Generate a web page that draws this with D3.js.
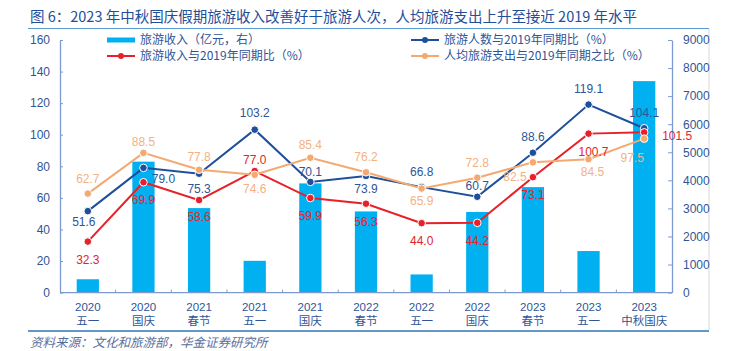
<!DOCTYPE html>
<html>
<head>
<meta charset="utf-8">
<script src="https://cdn.jsdelivr.net/npm/d3@7"></script>
<style>
  body { margin: 0; background: #fff; }
  svg text { font-family: "Liberation Sans", "Noto Sans CJK SC", sans-serif; }
  .cjk { font-family: "Noto Sans CJK SC", sans-serif; }
</style>
</head>
<body>
<div id="chart"></div>
<script>
// categories: year + holiday
const years = ["2020", "2020", "2021", "2021", "2021", "2022", "2022", "2022", "2023", "2023", "2023"];
const holidays = ["五一", "国庆", "春节", "五一", "国庆", "春节", "五一", "国庆", "春节", "五一", "中秋国庆"];

// 旅游收入（亿元，右轴）
const revenue = [475.6, 4665.6, 3011.0, 1132.3, 3890.6, 2892.0, 646.8, 2872.1, 3758.4, 1480.6, 7534.3];
// 旅游人数与2019年同期比（%）
const touristsPct = [51.6, 79.0, 75.3, 103.2, 70.1, 73.9, 66.8, 60.7, 88.6, 119.1, 104.1];
// 旅游收入与2019年同期比（%）
const revenuePct = [32.3, 69.9, 58.6, 77.0, 59.9, 56.3, 44.0, 44.2, 73.1, 100.7, 101.5];
// 人均旅游支出与2019年同期之比（%）
const spendPct = [62.7, 88.5, 77.8, 74.6, 85.4, 76.2, 65.9, 72.8, 82.5, 84.5, 97.5];

const leftTicks = [0, 20, 40, 60, 80, 100, 120, 140, 160];
const rightTicks = [0, 1000, 2000, 3000, 4000, 5000, 6000, 7000, 8000, 9000];

// label placement per point [dx, dy]
const touristsLabelOff = [[-4, 11], [20, 11], [0, 15], [0, -17], [0, -10], [0, 13], [0, -15], [0, -11], [0, -16], [0, -16], [0, -15]];
const revenueLabelOff = [[0, 18], [0, 18], [0, 17], [0, -11], [0, 18], [0, 18], [0, 18], [0, 18], [0, 18], [5, 18], [18, 3]];
const spendLabelOff = [[0, -15], [0, -11], [0, -13], [0, 14], [0, -13], [0, -15], [0, 12], [0, -15], [-18, 14], [4, 13], [-12, 19]];

const W = 732, H = 351;
const x0 = 60, x1 = 672, yTop = 40, yBase = 292.6;

const svg = d3.select("#chart").append("svg")
    .attr("width", W).attr("height", H);

const cats = years.map((y, i) => i);

const x = d3.scaleBand().domain(cats).range([x0, x1]).padding(0);
const yL = d3.scaleLinear().domain([0, 160]).range([yBase, yTop]);
const yR = d3.scaleLinear().domain([0, 9000]).range([yBase, yTop]);

const axisColor = "#7b9bd1";
const textBlue = "#2f5597";

// frame
svg.append("line").attr("x1", 28).attr("x2", 709).attr("y1", 28.5).attr("y2", 28.5)
    .attr("stroke", "#5b9bd5").attr("stroke-width", 1.2);
svg.append("line").attr("x1", 28).attr("x2", 709).attr("y1", 331).attr("y2", 331)
    .attr("stroke", "#2e75b6").attr("stroke-width", 1.5);
svg.append("line").attr("x1", 709).attr("x2", 709).attr("y1", 29).attr("y2", 330)
    .attr("stroke", "#d9d9d9").attr("stroke-width", 1);

// title
svg.append("text").attr("class", "cjk")
    .attr("x", 30).attr("y", 22)
    .attr("font-size", 14.5)
    .attr("fill", "#1f4e9a")
    .attr("textLength", 607).attr("lengthAdjust", "spacing")
    .text("图 6：2023 年中秋国庆假期旅游收入改善好于旅游人次，人均旅游支出上升至接近 2019 年水平");

// source
svg.append("text").attr("class", "cjk")
    .attr("x", 30).attr("y", 347)
    .attr("font-size", 12.5)
    .attr("font-style", "italic")
    .attr("fill", "#5a6e9c")
    .text("资料来源：文化和旅游部，华金证券研究所");

// bars
svg.append("g").selectAll("rect")
    .data(revenue)
    .enter().append("rect")
    .attr("x", (d, i) => x(i) + x.bandwidth() * 0.3)
    .attr("width", x.bandwidth() * 0.4)
    .attr("y", d => yR(d))
    .attr("height", d => yBase - yR(d))
    .attr("fill", "#00b0f0");

// axes
const leftAxis = svg.append("g")
    .attr("transform", `translate(${x0},0)`)
    .call(d3.axisLeft(yL).tickValues(leftTicks).tickSizeInner(-3).tickSizeOuter(0).tickPadding(10));
const rightAxis = svg.append("g")
    .attr("transform", `translate(${x1},0)`)
    .call(d3.axisRight(yR).tickValues(rightTicks).tickFormat(d3.format("d"))
        .tickSizeInner(-4).tickSizeOuter(0).tickPadding(11));
[leftAxis, rightAxis].forEach(g => {
    g.select(".domain").attr("stroke", axisColor).attr("stroke-width", 1.3);
    g.selectAll(".tick line").attr("stroke", axisColor);
    g.selectAll(".tick text").attr("fill", textBlue).attr("font-size", 12)
        .attr("font-family", "Liberation Sans, sans-serif");
});

// x axis baseline and ticks at band edges
const xAxis = svg.append("g");
xAxis.append("line").attr("x1", x0).attr("x2", x1).attr("y1", yBase).attr("y2", yBase)
    .attr("stroke", axisColor).attr("stroke-width", 1.3);
xAxis.selectAll(".xt").data(cats.slice(1)).enter().append("line")
    .attr("x1", d => x(d)).attr("x2", d => x(d))
    .attr("y1", yBase).attr("y2", yBase - 3)
    .attr("stroke", axisColor);
const xl = xAxis.selectAll(".xl").data(cats).enter().append("text")
    .attr("text-anchor", "middle")
    .attr("fill", textBlue)
    .attr("font-size", 11.5);
xl.append("tspan")
    .attr("x", d => x(d) + x.bandwidth() / 2).attr("y", 311)
    .text(d => years[d]);
xl.append("tspan").attr("class", "cjk")
    .attr("x", d => x(d) + x.bandwidth() / 2).attr("y", 325)
    .text(d => holidays[d]);

// lines
const series = [
    { values: touristsPct, color: "#1f4e9a", label: "#2f5597", off: touristsLabelOff },
    { values: revenuePct, color: "#e8202a", label: "#e3242b", off: revenueLabelOff },
    { values: spendPct, color: "#f4a971", label: "#f4b183", off: spendLabelOff }
];
const line = d3.line()
    .x((d, i) => x(i) + x.bandwidth() / 2)
    .y(d => yL(d));

series.forEach(s => {
    const g = svg.append("g");
    g.append("path").datum(s.values)
        .attr("d", line)
        .attr("fill", "none")
        .attr("stroke", s.color)
        .attr("stroke-width", 2);
    g.selectAll("circle").data(s.values).enter().append("circle")
        .attr("cx", (d, i) => x(i) + x.bandwidth() / 2)
        .attr("cy", d => yL(d))
        .attr("r", 3.8)
        .attr("fill", s.color)
        .attr("stroke", "#fff")
        .attr("stroke-width", 1);
});

series.forEach(s => {
    svg.append("g").selectAll("text").data(s.values).enter().append("text")
        .attr("x", (d, i) => x(i) + x.bandwidth() / 2 + s.off[i][0])
        .attr("y", (d, i) => yL(d) + s.off[i][1])
        .attr("dy", "0.35em")
        .attr("text-anchor", (d, i) => s.off[i][0] > 15 && s.values === revenuePct ? "start" : "middle")
        .attr("fill", s.label)
        .attr("font-size", 12)
        .text(d => d.toFixed(1));
});

// legend
const legend = svg.append("g").attr("font-size", 12).attr("fill", textBlue);
const legendItems = [
    { x: 107, y: 40, type: "bar", color: "#00b0f0", text: "旅游收入（亿元，右）" },
    { x: 107, y: 56, type: "line", color: "#e8202a", text: "旅游收入与2019年同期比（%）" },
    { x: 411, y: 40, type: "line", color: "#1f4e9a", text: "旅游人数与2019年同期比（%）" },
    { x: 411, y: 56, type: "line", color: "#f4a971", text: "人均旅游支出与2019年同期之比（%）" }
];
legendItems.forEach(it => {
    if (it.type === "bar") {
        legend.append("rect").attr("x", it.x).attr("y", it.y - 2.5)
            .attr("width", 28).attr("height", 5).attr("fill", it.color);
    } else {
        legend.append("line").attr("x1", it.x).attr("x2", it.x + 28)
            .attr("y1", it.y).attr("y2", it.y)
            .attr("stroke", it.color).attr("stroke-width", 2);
        legend.append("circle").attr("cx", it.x + 14).attr("cy", it.y).attr("r", 3)
            .attr("fill", it.color);
    }
    legend.append("text").attr("class", "cjk")
        .attr("x", it.x + 33).attr("y", it.y).attr("dy", "0.35em")
        .attr("fill", textBlue)
        .text(it.text);
});
</script>
</body>
</html>
